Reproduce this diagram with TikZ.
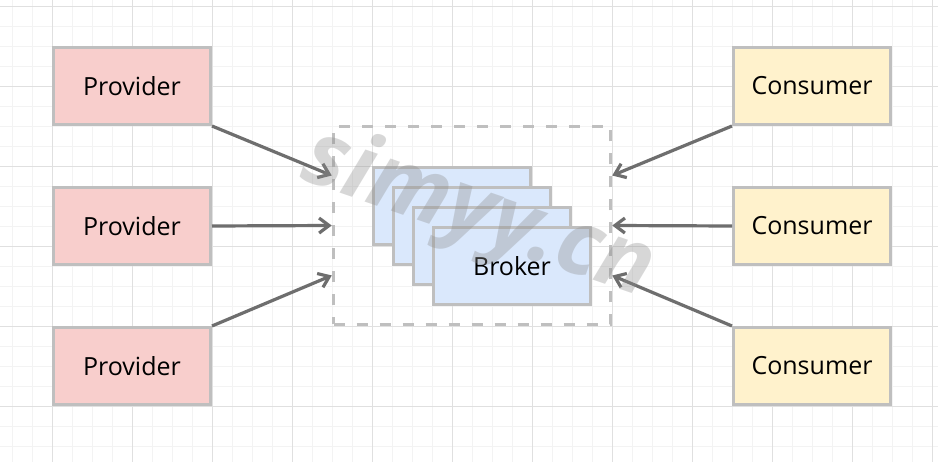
\documentclass[tikz,border=0pt]{standalone}
\usepackage{fontspec}
\setmainfont{Open Sans}
\usetikzlibrary{arrows.meta,positioning}
\definecolor{provfill}{HTML}{F8CECC}
\definecolor{consfill}{HTML}{FFF2CC}
\definecolor{brokfill}{HTML}{DAE8FC}
\definecolor{boxline}{HTML}{BFBFBF}
\definecolor{linkgray}{HTML}{6E6E6E}
\definecolor{gridminor}{HTML}{F3F3F3}
\definecolor{gridmajor}{HTML}{E0E0E0}

\begin{document}
\begin{tikzpicture}[
    x = 1pt, y = -1pt,
    box/.style      = {draw=boxline, line width=3.2pt, inner sep=0pt,
      minimum width=156.8pt, minimum height=76.8pt,
      font=\fontsize{25}{30}\selectfont},
    provider/.style = {box, fill=provfill},
    consumer/.style = {box, fill=consfill},
    broker/.style   = {box, fill=brokfill},
    cluster/.style  = {draw=boxline, line width=3.5pt, dash pattern=on 11pt off 12pt,
      minimum width=277pt, minimum height=198pt},
    link/.style     = {draw=linkgray, line width=3.2pt,
      -{Straight Barb[length=10pt,width=15pt]}},
    watermark/.style = {text=black!45, opacity=0.34, rotate=-19,
      font=\fontsize{90}{96}\selectfont\bfseries\itshape}
  ]
  \useasboundingbox (0,0) rectangle (938,462);
  \fill[white] (0,0) rectangle (938,462);
  \foreach \x in {12,32,...,932}
    \draw[gridminor, line width=1pt] (\x,0) -- (\x,462);
  \foreach \y in {7,27,...,447}
    \draw[gridminor, line width=1pt] (0,\y) -- (938,\y);
  \foreach \x in {52,132,...,932}
    \draw[gridmajor, line width=1pt] (\x,0) -- (\x,462);
  \foreach \y in {7,87,...,407}
    \draw[gridmajor, line width=1pt] (0,\y) -- (938,\y);

  \node[provider] (p1) at (132,86) {Provider};
  \node[provider, below=60pt of p1] (p2) {Provider};
  \node[provider, below=60pt of p2] (p3) {Provider};

  \node[consumer] (c1) at (812,86) {Consumer};
  \node[consumer, below=60pt of c1] (c2) {Consumer};
  \node[consumer, below=60pt of c2] (c3) {Consumer};

  \node[cluster] (mq) at (472,225.5) {};
  \foreach \i in {1,2,3}
    \node[broker] (b\i) at ({432+20*\i},{186+20*\i}) {};
  \node[broker] (b4) at (512,266) {Broker};

  \draw[link] (p1.south east) -- ([yshift=50pt]mq.west);
  \draw[link] (p2.east) -- (mq.west);
  \draw[link] (p3.north east) -- ([yshift=-50pt]mq.west);
  \draw[link] (c1.south west) -- ([yshift=50pt]mq.east);
  \draw[link] (c2.west) -- (mq.east);
  \draw[link] (c3.north west) -- ([yshift=-50pt]mq.east);

  \node[watermark] (wm) at (478,216) {simyy.cn};
\end{tikzpicture}
\end{document}
